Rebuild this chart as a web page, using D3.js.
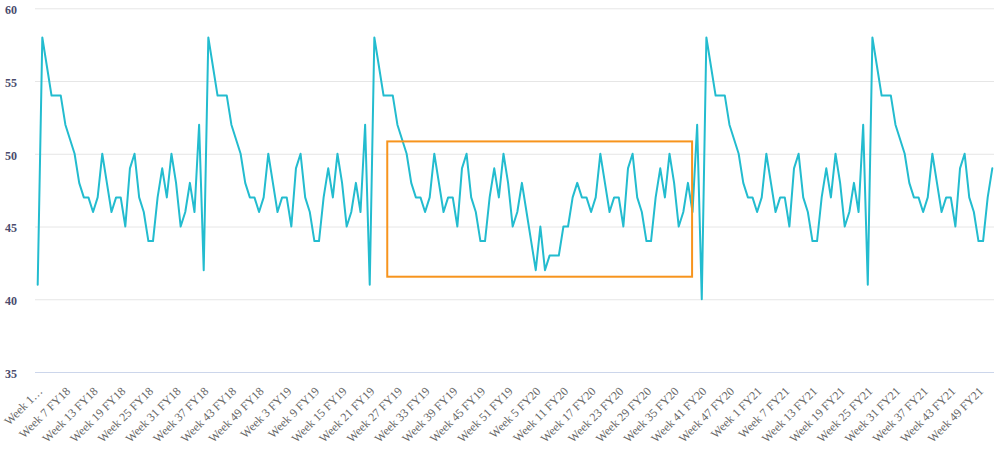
<!DOCTYPE html>
<html>
<head>
<meta charset="utf-8">
<script src="https://cdn.jsdelivr.net/npm/d3@7"></script>
<style>
  html, body { margin: 0; padding: 0; background: #fff; }
  svg { display: block; }
</style>
</head>
<body>
<div id="chart"></div>
<script>
// ---- Data ----
const fiscalYears = ["FY18", "FY19", "FY20", "FY21"];
const weeksPerYear = 52;
const categories = [];
fiscalYears.forEach(fy => { for (let w = 1; w <= weeksPerYear; w++) categories.push("Week " + w + " " + fy); });

const values = [
  41,
  58,56,54,54,54,52,51,50,48,47,47,46,47,50,48,46,47,47,45,49,50,47,46,44,44,47,49,47,50,48,45,46,48,46,52,
  42,
  58,56,54,54,54,52,51,50,48,47,47,46,47,50,48,46,47,47,45,49,50,47,46,44,44,47,49,47,50,48,45,46,48,46,52,
  41,
  58,56,54,54,54,52,51,50,48,47,47,46,47,50,48,46,47,47,45,49,50,47,46,44,44,47,49,47,50,48,45,46,48,
  46,44,42,45,42,43,43,43,45,45,47,48,
  47,47,46,47,50,48,46,47,47,45,49,50,47,46,44,44,47,49,47,50,48,45,46,48,46,52,
  40,
  58,56,54,54,54,52,51,50,48,47,47,46,47,50,48,46,47,47,45,49,50,47,46,44,44,47,49,47,50,48,45,46,48,46,52,
  41,
  58,56,54,54,54,52,51,50,48,47,47,46,47,50,48,46,47,47,45,49,50,47,46,44,44,47,49
];
const yTicks = [35, 40, 45, 50, 55, 60];
const labelEvery = 6;
// highlighted region in data units (category index range, value range)
const highlightIndex = [75.8, 141.9];
const highlightValue = [41.55, 50.85];

// ---- Layout ----
const W = 999, H = 453;
const plotLeft = 35, plotRight = 994, plotTop = 8.3, plotBottom = 372;

const svg = d3.select("#chart").append("svg").attr("width", W).attr("height", H);

const x = d3.scalePoint().domain(categories).range([37.7, 992.3]);
const xi = d3.scaleLinear().domain([0, categories.length - 1]).range([37.7, 992.3]);
const y = d3.scaleLinear().domain([35, 60]).range([plotBottom, plotTop]);

// gridlines + y labels
const yAxis = d3.axisLeft(y).tickValues(yTicks).tickSize(-(plotRight - plotLeft)).tickPadding(18);
const gy = svg.append("g").attr("transform", `translate(${plotLeft},0)`).call(yAxis);
gy.select(".domain").remove();
gy.selectAll(".tick line").attr("stroke", "#e6e6e6").attr("stroke-width", 1);
gy.selectAll(".tick text")
  .attr("fill", "#4b4b6d")
  .attr("font-family", "'Liberation Serif', serif")
  .attr("font-weight", "bold")
  .attr("font-size", 12)
  .attr("dy", "0.45em");

// x axis
const tickVals = categories.filter((d, i) => i % labelEvery === 0);
const xAxis = d3.axisBottom(x).tickValues(tickVals).tickSize(0).tickPadding(0)
  .tickFormat((d, i) => i === 0 ? d.split(" ").slice(0, 2).join(" ") + "…" : d);
const gx = svg.append("g").attr("transform", `translate(0,${plotBottom})`).call(xAxis);
gx.select(".domain").attr("stroke", "#ccd6eb").attr("d", `M${plotLeft},0.5H${plotRight}`);
gx.selectAll(".tick text")
  .attr("fill", "#666666")
  .attr("font-family", "'Liberation Serif', serif")
  .attr("font-size", 12)
  .attr("text-anchor", "end")
  .attr("dy", null)
  .attr("y", 0)
  .attr("transform", "translate(5,20) rotate(-45)");

// line
const line = d3.line().x((d, i) => x(categories[i])).y(d => y(d));
svg.append("path")
  .datum(values)
  .attr("fill", "none")
  .attr("stroke", "#23bccf")
  .attr("stroke-width", 2)
  .attr("stroke-linejoin", "round")
  .attr("stroke-linecap", "round")
  .attr("d", line);

// highlight box
svg.append("rect")
  .attr("x", xi(highlightIndex[0]))
  .attr("y", y(highlightValue[1]))
  .attr("width", xi(highlightIndex[1]) - xi(highlightIndex[0]))
  .attr("height", y(highlightValue[0]) - y(highlightValue[1]))
  .attr("fill", "none")
  .attr("stroke", "#f7941d")
  .attr("stroke-width", 2);
</script>
</body>
</html>
